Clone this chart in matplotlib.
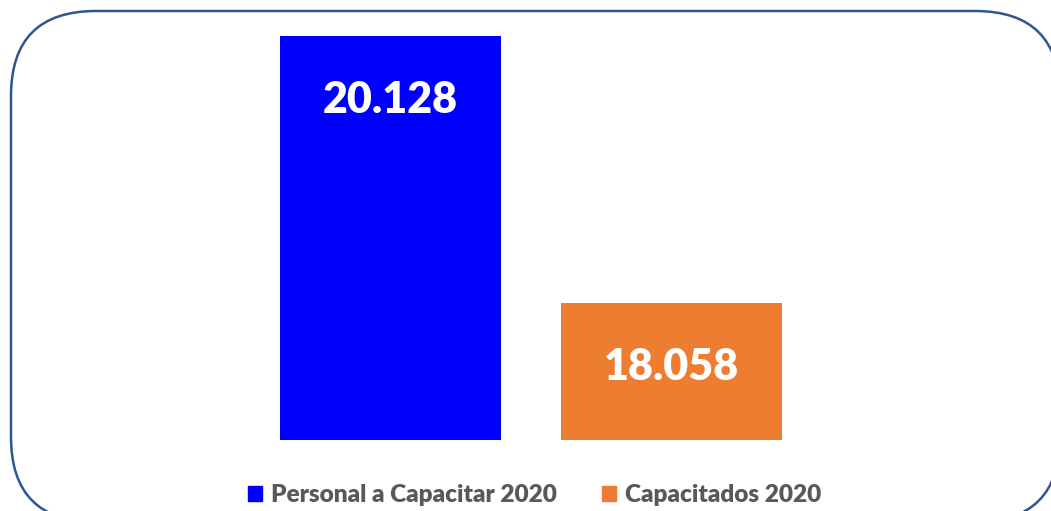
import matplotlib.pyplot as plt
from matplotlib.patches import FancyBboxPatch, Patch

categorias = ["Personal a Capacitar 2020", "Capacitados 2020"]
valores = [20128, 18058]
colores = ["#0000FF", "#ED7D31"]

plt.rcParams['font.family'] = ['Lato', 'DejaVu Sans']

W, H = 1051, 511
fig = plt.figure(figsize=(W / 100, H / 100), dpi=100)

# rounded frame drawn in pixel coordinates
bg = fig.add_axes([0, 0, 1, 1])
bg.set_xlim(0, W)
bg.set_ylim(H, 0)
bg.axis('off')
bg.add_patch(FancyBboxPatch((11, 11), 1049, 511, boxstyle="round,pad=0,rounding_size=85",
                            facecolor='white', edgecolor='#2F5597', linewidth=1.8, clip_on=False))

ax = fig.add_axes([250 / W, 1 - 440 / H, 562 / W, 404 / H])
ax.patch.set_alpha(0)
pos = list(range(len(valores)))
bars = ax.bar(pos, valores, width=221 / 281, color=colores)
ax.set_xlim(-0.5, 1.5)
ax.set_ylim(17000, 20128)
ax.axis('off')

for b, v in zip(bars, valores):
    ax.annotate(f"{v:,}".replace(",", "."), (b.get_x() + b.get_width() / 2, v),
                xytext=(0, -64), textcoords='offset pixels', ha='center', va='center',
                color='white', fontsize=31, fontweight='heavy')

handles = [Patch(color=c, label=l) for c, l in zip(colores, categorias)]
fig.legend(handles=handles, loc='center', bbox_to_anchor=(535 / W, 1 - 495 / H), ncol=2,
           frameon=False, prop={'weight': 'heavy', 'size': 17.6}, labelcolor='#595959',
           handlelength=0.57, handleheight=0.57, handletextpad=0.37, columnspacing=1.84)

fig.savefig("out.png", dpi=100)
